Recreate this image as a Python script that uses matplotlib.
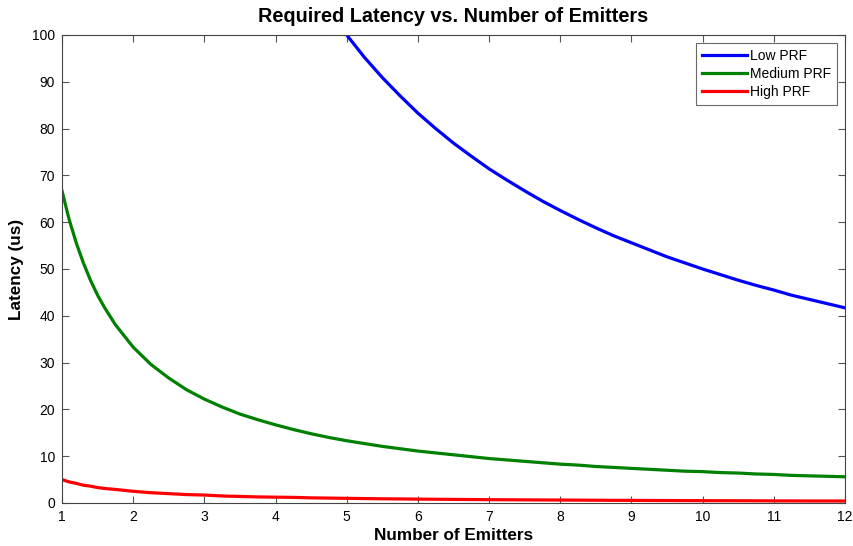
import matplotlib
matplotlib.use("Agg")
import matplotlib.pyplot as plt

# Number of emitters and required latency (us) for each PRF class
emitters = [1, 1.1, 1.2, 1.3, 1.4, 1.5, 1.6, 1.75, 2, 2.25, 2.5, 2.75, 3, 3.25, 3.5, 3.75,
            4, 4.25, 4.5, 4.75, 5, 5.25, 5.5, 5.75, 6, 6.25, 6.5, 6.75, 7, 7.25, 7.5,
            7.75, 8, 8.25, 8.5, 8.75, 9, 9.25, 9.5, 9.75, 10, 10.25, 10.5, 10.75, 11,
            11.25, 11.5, 11.75, 12]
medium_prf = [66.7, 60.6, 55.6, 51.3, 47.6, 44.4, 41.7, 38.1, 33.3,
              29.6, 26.7, 24.2, 22.2, 20.5, 19.0, 17.8, 16.7, 15.7, 14.8, 14.0, 13.3,
              12.7, 12.1, 11.6, 11.1, 10.7, 10.3, 9.9, 9.5, 9.2, 8.9, 8.6, 8.3, 8.1,
              7.8, 7.6, 7.4, 7.2, 7.0, 6.8, 6.7, 6.5, 6.4, 6.2, 6.1, 5.9, 5.8, 5.7, 5.6]
high_prf = [5.0, 4.5, 4.2, 3.8, 3.6, 3.3, 3.1, 2.9, 2.5,
            2.2, 2.0, 1.8, 1.7, 1.5, 1.4, 1.3, 1.25, 1.2, 1.1, 1.05, 1.0, 0.95, 0.9,
            0.87, 0.83, 0.8, 0.77, 0.74, 0.71, 0.69, 0.67, 0.65, 0.63, 0.61, 0.59,
            0.57, 0.56, 0.54, 0.53, 0.51, 0.5, 0.49, 0.48, 0.47, 0.45, 0.44, 0.43,
            0.43, 0.42]

low_emitters = [5, 5.25, 5.5, 5.75, 6, 6.25, 6.5, 6.75, 7, 7.25, 7.5, 7.75, 8, 8.25,
                8.5, 8.75, 9, 9.25, 9.5, 9.75, 10, 10.25, 10.5, 10.75, 11, 11.25, 11.5,
                11.75, 12]
low_prf = [100.0, 95.2, 90.9, 87.0, 83.3, 80.0, 76.9, 74.1, 71.4, 69.0, 66.7, 64.5,
           62.5, 60.6, 58.8, 57.1, 55.6, 54.1, 52.6, 51.3, 50.0, 48.8, 47.6, 46.5,
           45.5, 44.4, 43.5, 42.6, 41.7]

x_ticks = [1, 2, 3, 4, 5, 6, 7, 8, 9, 10, 11, 12]
y_ticks = [0, 10, 20, 30, 40, 50, 60, 70, 80, 90, 100]

plt.rcParams['font.family'] = ['Liberation Sans', 'DejaVu Sans']

fig = plt.figure(figsize=(8.54, 5.46), dpi=100)
ax = fig.add_axes([62 / 854, 1 - 503 / 546, (845 - 62) / 854, (503 - 35) / 546])

ax.plot(low_emitters, low_prf, color='#0000ff', lw=2.3, label='Low PRF')
ax.plot(emitters, medium_prf, color='#008000', lw=2.3, label='Medium PRF')
ax.plot(emitters, high_prf, color='#ff0000', lw=2.3, label='High PRF')

ax.set_xlim(1, 12)
ax.set_ylim(0, 100)
ax.set_xticks(x_ticks)
ax.set_yticks(y_ticks)
ax.tick_params(direction='in', length=5, width=0.8, top=True, right=True,
               labelsize=10, labelcolor='black', color='#555555', pad=5)
for s in ax.spines.values():
    s.set_color('#444444')
    s.set_linewidth(0.8)

ax.set_title('Required Latency vs. Number of Emitters', fontsize=14.3,
             fontweight='bold', pad=9)
ax.set_xlabel('Number of Emitters', fontsize=12.3, fontweight='bold', labelpad=3)
ax.set_ylabel('Latency (us)', fontsize=12.3, fontweight='bold', labelpad=6)

leg = ax.legend(loc='upper right', fontsize=10, frameon=True, fancybox=False,
                borderaxespad=0.58, handlelength=3.2, handletextpad=0.2,
                labelspacing=0.27, borderpad=0.45)
leg.get_frame().set_edgecolor('#444444')
leg.get_frame().set_linewidth(0.8)

fig.savefig('out.png', dpi=100, facecolor='white')
